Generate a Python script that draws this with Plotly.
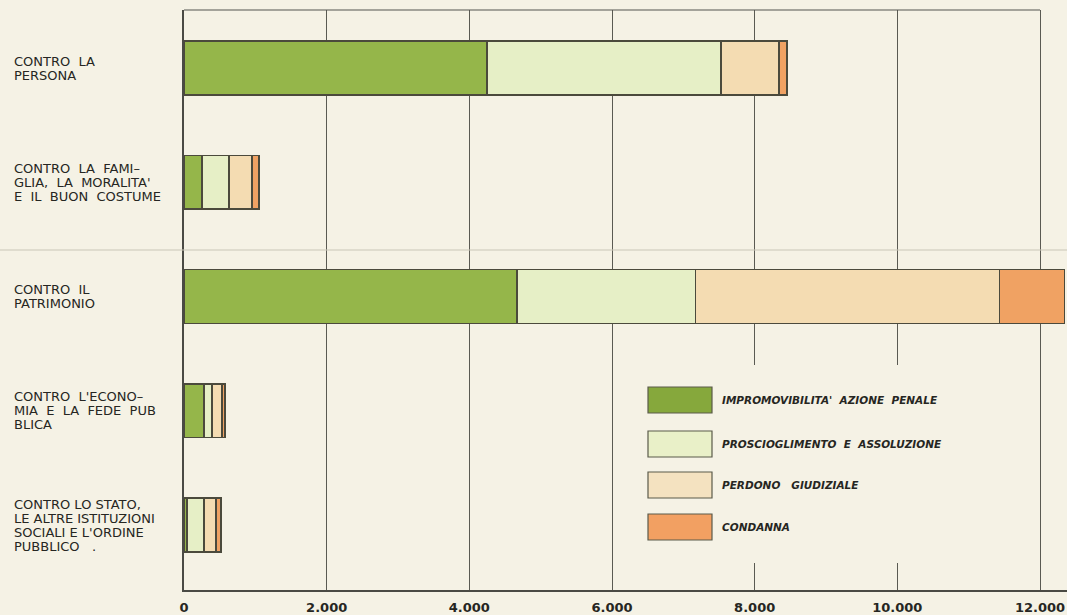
import plotly.graph_objects as go

# Categories (bottom to top order on the axis)
categories = [
    "Contro lo Stato",
    "Contro l'economia",
    "Contro il patrimonio",
    "Contro la famiglia",
    "Contro la persona",
]
category_labels = [
    ["CONTRO LO STATO,", "LE ALTRE ISTITUZIONI", "SOCIALI E L'ORDINE", "PUBBLICO   ."],
    ["CONTRO  L'ECONO–", "MIA  E  LA  FEDE  PUB", "BLICA"],
    ["CONTRO  IL", "PATRIMONIO"],
    ["CONTRO  LA  FAMI–", "GLIA,  LA  MORALITA'", "E  IL  BUON  COSTUME"],
    ["CONTRO  LA", "PERSONA"],
]

series_names = [
    "IMPROMOVIBILITA'  AZIONE  PENALE",
    "PROSCIOGLIMENTO  E  ASSOLUZIONE",
    "PERDONO   GIUDIZIALE",
    "CONDANNA",
]
impromovibilita = [40, 280, 4670, 250, 4250]
proscioglimento = [240, 115, 2500, 380, 3280]
perdono = [170, 140, 4260, 325, 810]
condanna = [70, 40, 910, 95, 110]
series_values = [impromovibilita, proscioglimento, perdono, condanna]

tick_values = [0, 2000, 4000, 6000, 8000, 10000, 12000]
tick_labels = ["0", "2.000", "4.000", "6.000", "8.000", "10.000", "12.000"]

colors = ["#95b64a", "#e6efc6", "#f4dcb2", "#f0a263"]
legend_colors = ["#86a83c", "#e9f0c8", "#f4e2c0", "#f2a062"]
bg = "#f5f2e5"
ink = "#262622"

fig = go.Figure()
for name, vals, col in zip(series_names, series_values, colors):
    fig.add_trace(go.Bar(
        y=categories, x=vals, name=name, orientation="h",
        marker=dict(color=col, line=dict(color="#4b4a3c", width=1.5)),
        width=0.47, showlegend=False,
    ))

W, H = 1067, 615
L, R, T, B = 184, 0, 10, 25
plot_w = W - L - R
plot_h = H - T - B
x_max = 12000 * plot_w / (1040 - 184)

def px_x(px):
    return (px - L) / plot_w

def px_y(py):
    return 1 - (py - T) / plot_h

annotations = []
line_gap = 14
for cat, lines in zip(categories, category_labels):
    n = len(lines)
    for i, ln in enumerate(lines):
        annotations.append(dict(
            x=px_x(12), xref="paper", y=cat, yref="y",
            text=ln, showarrow=False, xanchor="left", yanchor="middle",
            yshift=((n - 1) / 2 - i) * line_gap,
            font=dict(family="DejaVu Sans", size=13, color=ink),
        ))

shapes = [
    # top border up to 12000
    dict(type="line", xref="x", yref="paper", x0=0, x1=12000, y0=1, y1=1,
         line=dict(color="#555550", width=1.2)),
    # scan fold line across the page
    dict(type="line", xref="paper", yref="paper", x0=px_x(0), x1=1,
         y0=px_y(250), y1=px_y(250),
         line=dict(color="#c9c6b8", width=1.2)),
]

# legend block drawn as swatches + text
shapes.append(dict(type="rect", xref="paper", yref="paper", layer="above",
                   x0=px_x(640), x1=px_x(975), y0=px_y(563), y1=px_y(365),
                   fillcolor=bg, line=dict(width=0)))
leg_tops = [387, 431, 472, 514]
for top, name, col in zip(leg_tops, series_names, legend_colors):
    shapes.append(dict(type="rect", xref="paper", yref="paper", layer="above",
                       x0=px_x(648), x1=px_x(712), y0=px_y(top + 26), y1=px_y(top),
                       fillcolor=col, line=dict(color="#5a5a4a", width=1.2)))
    annotations.append(dict(
        x=px_x(720), xref="paper", y=px_y(top + 13), yref="paper",
        text=name, showarrow=False, xanchor="left", yanchor="middle",
        font=dict(family="DejaVu Sans", size=10.5, color=ink, style="italic", weight="bold"),
    ))

fig.update_layout(
    width=W, height=H,
    margin=dict(l=L, r=R, t=T, b=B),
    paper_bgcolor=bg, plot_bgcolor=bg,
    barmode="stack",
    xaxis=dict(
        range=[0, x_max], tickvals=tick_values, ticktext=tick_labels,
        showgrid=True, gridcolor="#5a5a52", gridwidth=1,
        zeroline=False, showline=True, linecolor="#4a4a44", linewidth=1.5,
        ticks="", ticklabelstandoff=5,
        tickfont=dict(family="DejaVu Sans", size=13, color=ink, weight="bold"),
    ),
    yaxis=dict(
        categoryorder="array", categoryarray=categories,
        range=[-0.569, 4.508], showticklabels=False, showgrid=False,
        zeroline=False, showline=True, linecolor="#4a4a44", linewidth=1.5,
        ticks="",
    ),
    annotations=annotations,
    shapes=shapes,
)

fig.write_html(
    "out.html",
    config={"displayModeBar": False},
    post_script="document.body.style.margin='0';document.body.style.overflow='hidden';",
)
